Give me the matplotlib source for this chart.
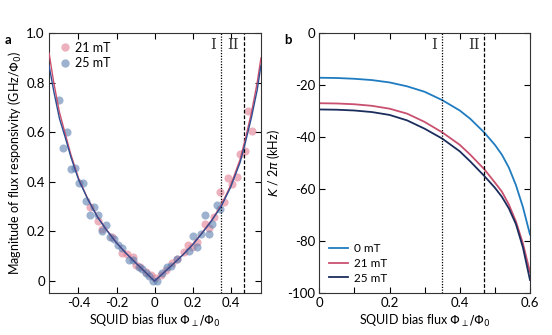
import numpy as np
import matplotlib.pyplot as plt
from matplotlib.lines import Line2D

plt.rcParams["font.family"] = ["Lato", "DejaVu Sans"]
plt.rcParams["mathtext.fontset"] = "dejavusans"

# ---------------------------------------------------------------------------
# Panel a data: measured flux responsivity (read from the figure)
# ---------------------------------------------------------------------------
pink_x = [-0.337, -0.298, -0.275, -0.223, -0.170, -0.144, -0.114, -0.100,
          -0.074, -0.047, -0.021, 0.005, 0.032, 0.058, 0.093, 0.119, 0.154,
          0.175, 0.198, 0.225, 0.263, 0.286, 0.312, 0.344, 0.368, 0.388,
          0.409, 0.432, 0.449, 0.474, 0.491, 0.514]
pink_y = [0.297, 0.241, 0.208, 0.177, 0.115, 0.108, 0.097, 0.064, 0.057,
          0.037, 0.024, 0.011, 0.024, 0.044, 0.071, 0.091, 0.117, 0.144,
          0.137, 0.157, 0.231, 0.215, 0.257, 0.360, 0.317, 0.417, 0.393,
          0.421, 0.511, 0.524, 0.684, 0.604]

blue_x = [-0.504, -0.463, -0.481, -0.439, -0.419, -0.398, -0.377, -0.358,
          -0.316, -0.337, -0.296, -0.253, -0.275, -0.232, -0.214, -0.191,
          -0.170, -0.132, -0.114, -0.082, -0.065, -0.047, -0.030, -0.009,
          0.014, 0.040, 0.067, 0.088, 0.119, 0.181, 0.204, 0.225, 0.242,
          0.263, 0.286, 0.304, 0.326, 0.344]
blue_y = [0.731, 0.601, 0.537, 0.453, 0.457, 0.395, 0.395, 0.324, 0.300,
          0.267, 0.268, 0.227, 0.200, 0.177, 0.168, 0.144, 0.135, 0.084,
          0.084, 0.055, 0.048, 0.031, 0.020, 0.001, 0.001, 0.033, 0.055,
          0.061, 0.088, 0.120, 0.180, 0.137, 0.188, 0.268, 0.188, 0.231,
          0.308, 0.291]

# Fit curves
fit_x = [-0.555, -0.53, -0.50, -0.47, -0.44, -0.40, -0.35, -0.30, -0.25,
         -0.20, -0.15, -0.10, -0.05, 0.0, 0.05, 0.10, 0.15, 0.20, 0.25,
         0.30, 0.35, 0.40, 0.45, 0.48, 0.51, 0.54, 0.56]
fit21_y = [0.92, 0.80, 0.68, 0.595, 0.51, 0.415, 0.33, 0.26, 0.205, 0.155,
           0.113, 0.075, 0.037, 0.0, 0.035, 0.071, 0.107, 0.147, 0.195,
           0.245, 0.305, 0.385, 0.49, 0.58, 0.68, 0.80, 0.90]
fit25_y = [0.87, 0.765, 0.655, 0.58, 0.50, 0.41, 0.328, 0.258, 0.203,
           0.154, 0.112, 0.074, 0.037, 0.0, 0.035, 0.070, 0.106, 0.146,
           0.193, 0.243, 0.300, 0.378, 0.478, 0.565, 0.66, 0.77, 0.87]

# ---------------------------------------------------------------------------
# Panel b data: Kerr coefficient K/2pi (kHz)
# ---------------------------------------------------------------------------
kerr_x = [0.0, 0.05, 0.10, 0.15, 0.20, 0.25, 0.30, 0.35, 0.40, 0.43, 0.47,
          0.50, 0.52, 0.54, 0.56, 0.58, 0.60]
k0_y = [-17.2, -17.3, -17.6, -18.1, -19.0, -20.5, -22.6, -25.8, -29.8,
        -33.0, -38.3, -43.0, -46.8, -51.8, -58.5, -67.0, -77.5]
k21_y = [-27.0, -27.1, -27.4, -28.0, -29.1, -31.0, -34.2, -38.2, -43.0,
         -46.8, -52.4, -57.5, -61.0, -66.0, -72.5, -81.0, -92.0]
k25_y = [-29.4, -29.5, -29.8, -30.4, -31.5, -33.6, -36.8, -40.6, -45.5,
         -49.4, -55.0, -59.5, -63.0, -67.5, -73.5, -82.5, -95.0]

flux_I = 0.35
flux_II = 0.47

c_pink = "#e07d92"
c_blue = "#5b7fb0"
c_line21 = "#cc4f6e"
c_line25 = "#2f4f93"
c_k0 = "#1f7cc0"
c_k21 = "#c9506f"
c_k25 = "#1b2d5c"

fs = 9

fig = plt.figure(figsize=(5.52, 3.35), dpi=100)
ax_a = fig.add_axes([0.0888, 0.1254, 0.384, 0.776])
ax_b = fig.add_axes([0.5784, 0.1254, 0.3817, 0.776])

# ---------------------------- panel a -------------------------------------
ax_a.scatter(pink_x, pink_y, s=34, color=c_pink, alpha=0.6, linewidths=0,
             zorder=2)
ax_a.scatter(blue_x, blue_y, s=34, color=c_blue, alpha=0.6, linewidths=0,
             zorder=2)
ax_a.plot(fit_x, fit21_y, color=c_line21, lw=1.0, zorder=3)
ax_a.plot(fit_x, fit25_y, color=c_line25, lw=1.0, zorder=3)
ax_a.axvline(flux_I, color="black", lw=0.9, ls=(0, (1, 1.2)))
ax_a.axvline(flux_II, color="black", lw=0.9, ls=(0, (3, 1.5)))

ax_a.set_xlim(-0.555, 0.56)
ax_a.set_ylim(-0.048, 1.0)
ax_a.set_xticks([-0.4, -0.2, 0, 0.2, 0.4])
ax_a.set_xticklabels(["-0.4", "-0.2", "0", "0.2", "0.4"])
ax_a.set_yticks([0, 0.2, 0.4, 0.6, 0.8, 1.0])
ax_a.set_yticklabels(["0", "0.2", "0.4", "0.6", "0.8", "1.0"])
ax_a.set_xlabel(r"SQUID bias flux $\Phi_{\perp}/\Phi_0$", fontsize=fs,
                labelpad=3)
ax_a.set_ylabel(r"Magnitude of flux responsivity (GHz/$\Phi_0$)",
                fontsize=fs, labelpad=2)

leg_a = [Line2D([], [], ls="", marker="o", ms=6, color=c_pink, alpha=0.6,
                mec="none", label="21 mT"),
         Line2D([], [], ls="", marker="o", ms=6, color=c_blue, alpha=0.6,
                mec="none", label="25 mT")]
ax_a.legend(handles=leg_a, loc="upper left", frameon=False, fontsize=fs,
            handletextpad=0.2, borderaxespad=0.3, labelspacing=0.25,
            handlelength=1.2)

# ---------------------------- panel b -------------------------------------
ax_b.plot(kerr_x, k0_y, color=c_k0, lw=1.3, label="0 mT")
ax_b.plot(kerr_x, k21_y, color=c_k21, lw=1.3, label="21 mT")
ax_b.plot(kerr_x, k25_y, color=c_k25, lw=1.3, label="25 mT")
ax_b.axvline(flux_I, color="black", lw=0.9, ls=(0, (1, 1.2)))
ax_b.axvline(flux_II, color="black", lw=0.9, ls=(0, (3, 1.5)))

ax_b.set_xlim(0, 0.6)
ax_b.set_ylim(-100, 0)
ax_b.set_xticks([0, 0.2, 0.4, 0.6])
ax_b.set_xticklabels(["0", "0.2", "0.4", "0.6"])
ax_b.set_xticks([0.1, 0.3, 0.5], minor=True)
ax_b.set_yticks([0, -20, -40, -60, -80, -100])
ax_b.set_yticklabels(["0", "-20", "-40", "-60", "-80", "-100"])
ax_b.set_xlabel(r"SQUID bias flux $\Phi_{\perp}/\Phi_0$", fontsize=fs,
                labelpad=3)
ax_b.set_ylabel(r"$K$ / 2$\pi$ (kHz)", fontsize=fs, labelpad=4)
ax_b.legend(loc="lower left", frameon=False, fontsize=fs - 0.5,
            handlelength=1.6, handletextpad=0.5, labelspacing=0.3,
            borderaxespad=0.4)

for ax in (ax_a, ax_b):
    ax.tick_params(which="both", direction="in", top=True, right=True,
                   labelsize=9.5, length=4, width=0.8, pad=3)
    for sp in ax.spines.values():
        sp.set_linewidth(0.8)
        sp.set_color("#333333")
    for xv, txt in ((flux_I, "I"), (flux_II, "II")):
        ax.annotate(txt, xy=(xv, 0.955), xycoords=ax.get_xaxis_transform(),
                    xytext=(-3.5, 0), textcoords="offset points",
                    ha="right", va="center", family="DejaVu Serif",
                    fontsize=10.5, color="#333333")

fig.text(5 / 552, 1 - 40 / 335, "a", fontsize=9.5, fontweight="bold",
         va="center")
fig.text(284 / 552, 1 - 40 / 335, "b", fontsize=9.5, fontweight="bold",
         va="center")

plt.savefig("out.png", dpi=100)
plt.close()
